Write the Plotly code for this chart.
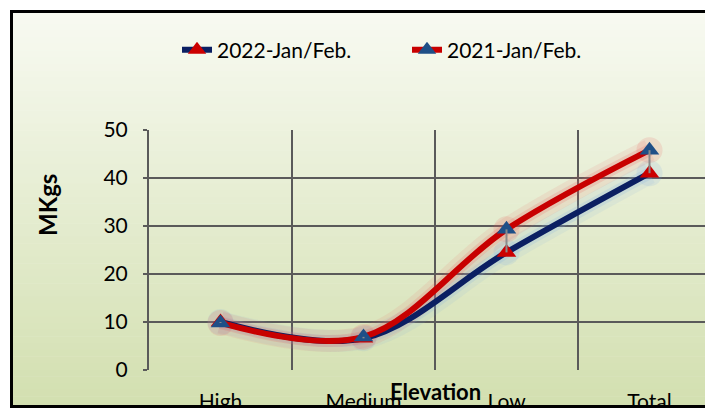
import plotly.graph_objects as go

categories = ["High", "Medium", "Low", "Total"]
y2022 = [10.0, 6.6, 24.5, 41.0]
y2021 = [9.8, 6.9, 29.3, 45.8]
ytick_vals = [0, 10, 20, 30, 40, 50]

OFF = 8  # page offset of the figure inside the browser window (default body margin)
W, H = 713, 408
L, R, T = 149 - OFF, 0, 130 - OFF
B = H - (370 - OFF)
PW, PH = W - L - R, H - T - B
STEP = 143.0  # pixels per category

def px2x(sx):
    return (sx - OFF - L) / PW

def px2y(sy):
    return (H - B - (sy - OFF)) / PH

xidx = list(range(len(categories)))
xmax = -0.5 + PW / STEP

FONT = "Lato"
NAVY = "#0b1f62"
RED = "#c80000"
BLUE_M = "#1f4f87"
RED_M = "#cc0000"

fig = go.Figure()

# glow layers
for ys, col in [(y2022, "120,170,230"), (y2021, "235,90,90")]:
    fig.add_trace(go.Scatter(x=xidx, y=ys, mode="lines", line=dict(color=f"rgba({col},0.10)", width=22, shape="spline"),
                             hoverinfo="skip", showlegend=False))
    fig.add_trace(go.Scatter(x=xidx, y=ys, mode="lines+markers", line=dict(color=f"rgba({col},0.18)", width=12, shape="spline"),
                             marker=dict(size=26, color=f"rgba({col},0.15)"),
                             hoverinfo="skip", showlegend=False))

fig.add_trace(go.Scatter(x=xidx, y=y2022, name="2022-Jan/Feb.", mode="lines+markers",
                         line=dict(color=NAVY, width=6, shape="spline"),
                         marker=dict(symbol="triangle-up", size=17, color=RED_M)))
fig.add_trace(go.Scatter(x=xidx, y=y2021, name="2021-Jan/Feb.", mode="lines+markers",
                         line=dict(color=RED, width=6, shape="spline"),
                         marker=dict(symbol="triangle-up", size=17, color=BLUE_M)))

# high-low lines
hx, hy = [], []
for i in xidx:
    hx += [i, i, None]
    hy += [y2022[i], y2021[i], None]
fig.add_trace(go.Scatter(x=hx, y=hy, mode="lines", line=dict(color="#8a8a8a", width=2),
                         hoverinfo="skip", showlegend=False))

shapes = []
# gradient background inside frame
top_c = (248, 250, 242)
bot_c = (210, 223, 175)
y_top, y_bot = 11, 410
N = 60
for k in range(N):
    t0 = y_top + (y_bot - y_top) * k / N
    t1 = y_top + (y_bot - y_top) * (k + 1) / N
    f = (k + 0.5) / N
    c = tuple(round(top_c[j] + (bot_c[j] - top_c[j]) * f) for j in range(3))
    shapes.append(dict(type="rect", xref="paper", yref="paper", layer="below",
                       x0=px2x(11), x1=px2x(730), y0=px2y(t1), y1=px2y(t0) + 0.002,
                       line=dict(width=0), fillcolor=f"rgb{c}"))
# frame
shapes.append(dict(type="rect", xref="paper", yref="paper", layer="above",
                   x0=px2x(11.5), x1=px2x(740), y0=px2y(406.5), y1=px2y(11.5),
                   line=dict(color="black", width=3), fillcolor="rgba(0,0,0,0)"))
# area below the frame
shapes.append(dict(type="rect", xref="paper", yref="paper", layer="above",
                   x0=px2x(0), x1=px2x(740), y0=px2y(430), y1=px2y(408),
                   line=dict(width=0), fillcolor="white"))

fig.update_layout(
    width=W, height=H,
    margin=dict(l=L, r=R, t=T, b=B),
    paper_bgcolor="white",
    plot_bgcolor="rgba(0,0,0,0)",
    font=dict(family=FONT, size=21, color="black"),
    showlegend=True,
    legend=dict(orientation="h", x=px2x(177), y=px2y(50), xanchor="left", yanchor="middle",
                bgcolor="rgba(0,0,0,0)", font=dict(size=21), entrywidth=185, entrywidthmode="pixels",
                traceorder="normal"),
    shapes=shapes,
    annotations=[
        dict(text="<b>Elevation</b>", xref="paper", yref="paper", x=px2x(435), y=px2y(391),
             showarrow=False, xanchor="center", yanchor="middle", font=dict(size=22)),
        dict(text="<b>MKgs</b>", xref="paper", yref="paper", x=px2x(47), y=px2y(205),
             showarrow=False, xanchor="center", yanchor="middle", textangle=-90, font=dict(size=24)),
    ],
)

fig.update_xaxes(range=[-0.5, xmax], tickmode="array", tickvals=xidx, ticktext=categories,
                 showgrid=False, zeroline=False, showline=False, ticks="",
                 ticklabelstandoff=17,
                 minor=dict(tickmode="array", tickvals=[-0.5, 0.5, 1.5, 2.5, 3.5], showgrid=True,
                            gridcolor="#5a5a5a", gridwidth=2))
fig.update_yaxes(range=[0, 50], tickmode="array", tickvals=ytick_vals,
                 showgrid=True, gridcolor="#5a5a5a", gridwidth=2, zeroline=False,
                 showline=True, linecolor="#5a5a5a", linewidth=2,
                 ticks="outside", ticklen=4, tickcolor="#5a5a5a", tickwidth=2,
                 ticklabelstandoff=11)

fig.write_html("out.html", config={"displayModeBar": False},
               post_script="document.documentElement.style.overflow='hidden';")
